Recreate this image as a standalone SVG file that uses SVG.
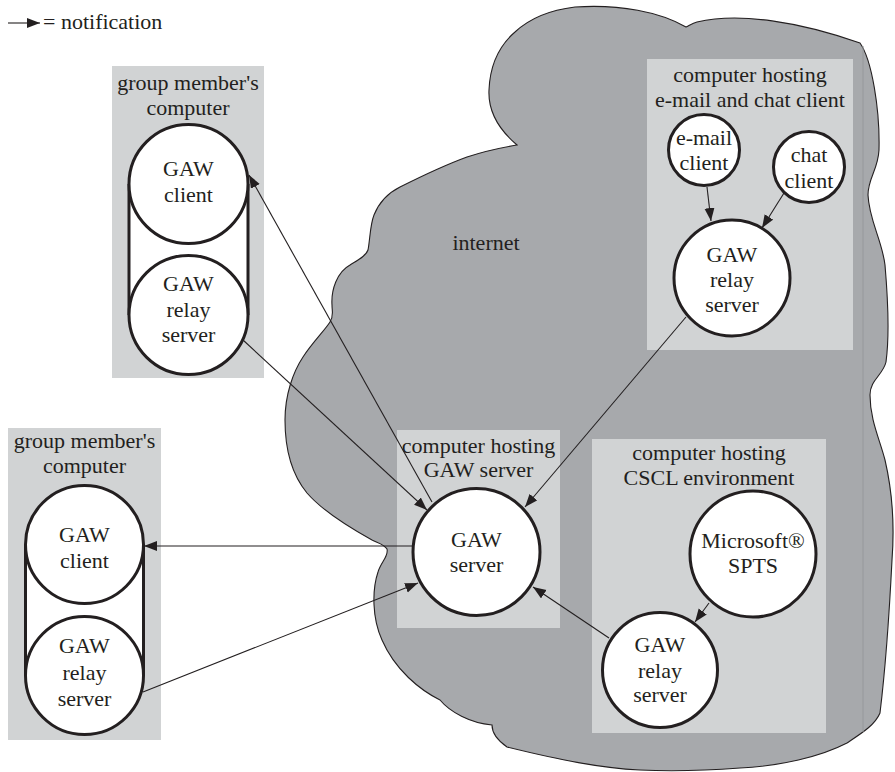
<svg xmlns="http://www.w3.org/2000/svg" width="895" height="772" viewBox="0 0 895 772">
  <style>
    text { font-family: "Liberation Serif", "Times New Roman", serif; font-size: 22px; fill: #231f20; text-anchor: middle; }
    .box { fill: #d1d3d4; stroke: none; }
    .node { fill: #ffffff; stroke: #231f20; stroke-width: 3; }
    .side { stroke: #231f20; stroke-width: 3; }
    .link { fill: none; stroke: #231f20; stroke-width: 1.1; }
    .cloud { fill: #a7a9ac; stroke: #231f20; stroke-width: 1.1; }
  </style>
  <defs>
    <marker id="arrow" markerUnits="userSpaceOnUse" markerWidth="15" markerHeight="11" refX="13" refY="5" orient="auto">
      <path d="M0,0 L13,5 L0,10 z" fill="#231f20"/>
    </marker>
  </defs>

  <!-- white page -->
  <rect x="0" y="0" width="895" height="772" fill="#ffffff"/>

  <!-- legend -->
  <g id="legend">
    <line class="link" x1="8" y1="23" x2="40" y2="23" marker-end="url(#arrow)"/>
    <text x="43" y="29" style="text-anchor:start">= notification</text>
  </g>

  <!-- internet cloud -->
  <g id="internet">
    <path class="cloud" d="M517,145
      C 497,128 488,110 489,90 C 490,65 500,45 515,32 C 530,18 550,10 575,7
      C 620,4 660,12 686,27 C 690,25 693,23 697,22
      C 740,12 800,22 860,43
      C 872,60 880,110 879,150 C 878,170 868,178 868,195
      C 869,220 882,240 885,265 C 888,300 889,340 886,362
      C 883,375 870,380 870,395 C 870,420 880,440 885,460
      C 892,490 895,520 892,560 C 889,620 884,680 880,713
      C 875,725 862,733 847,743 C 820,757 780,766 740,768
      C 700,771 660,771 640,770 C 600,768 560,760 507,747
      C 497,740 492,733 492,725
      C 470,723 450,712 440,700 C 420,690 395,670 382,640
      C 372,618 372,590 378,572 C 381,562 389,556 387,549
      C 384,544 378,543 372,540 C 345,525 320,508 307,493
      C 293,476 285,450 285,420 C 285,395 293,372 303,357
      C 312,343 325,330 330,322 C 334,316 332,312 332,305
      C 331,290 337,272 350,265 C 358,260 366,256 368,250
      C 370,240 370,225 374,215 C 380,200 390,192 400,187
      C 420,177 445,165 467,157 C 485,151 505,147 517,145 Z"/>
    <line x1="863" y1="46" x2="863" y2="732" stroke="#96989b" stroke-width="1"/>
    <text x="486" y="250">internet</text>
  </g>

  <!-- group member's computer (upper) -->
  <g id="member-top">
    <rect class="box" x="112" y="66" width="152" height="312"/>
    <text x="188" y="90">group member's</text>
    <text x="188" y="115">computer</text>
    <rect x="129" y="184" width="119" height="131" fill="#ffffff"/>
    <line class="side" x1="129" y1="184" x2="129" y2="315"/>
    <line class="side" x1="248" y1="184" x2="248" y2="315"/>
    <g id="gaw-client-top">
      <circle class="node" cx="188.5" cy="184" r="59.5"/>
      <text x="188.5" y="176">GAW</text>
      <text x="188.5" y="202">client</text>
    </g>
    <g id="gaw-relay-top">
      <circle class="node" cx="188.5" cy="315" r="59.5"/>
      <text x="188.5" y="291">GAW</text>
      <text x="188.5" y="317">relay</text>
      <text x="188.5" y="342">server</text>
    </g>
  </g>

  <!-- group member's computer (lower) -->
  <g id="member-bottom">
    <rect class="box" x="8" y="428" width="153" height="312"/>
    <text x="84.5" y="448">group member's</text>
    <text x="84.5" y="473">computer</text>
    <rect x="25.5" y="544.5" width="118" height="131" fill="#ffffff"/>
    <line class="side" x1="25.5" y1="544.5" x2="25.5" y2="675.5"/>
    <line class="side" x1="143.5" y1="544.5" x2="143.5" y2="675.5"/>
    <g id="gaw-client-bottom">
      <circle class="node" cx="84.5" cy="544.5" r="59"/>
      <text x="84.5" y="542">GAW</text>
      <text x="84.5" y="568">client</text>
    </g>
    <g id="gaw-relay-bottom">
      <circle class="node" cx="84.5" cy="675.5" r="59"/>
      <text x="84.5" y="653">GAW</text>
      <text x="84.5" y="680">relay</text>
      <text x="84.5" y="706">server</text>
    </g>
  </g>

  <!-- computer hosting e-mail and chat client -->
  <g id="mail-chat-host">
    <rect class="box" x="647" y="59" width="206" height="291"/>
    <text x="750" y="82">computer hosting</text>
    <text x="750" y="107">e-mail and chat client</text>
    <g id="email-client">
      <circle class="node" cx="704" cy="150" r="35.5"/>
      <text x="704" y="145">e-mail</text>
      <text x="704" y="170">client</text>
    </g>
    <g id="chat-client">
      <circle class="node" cx="809" cy="167" r="35.5"/>
      <text x="809" y="162">chat</text>
      <text x="809" y="188">client</text>
    </g>
    <g id="gaw-relay-mail">
      <circle class="node" cx="732" cy="278" r="58"/>
      <text x="732" y="262">GAW</text>
      <text x="732" y="287">relay</text>
      <text x="732" y="312">server</text>
    </g>
  </g>

  <!-- computer hosting GAW server -->
  <g id="server-host">
    <rect class="box" x="397" y="430" width="163" height="198"/>
    <text x="478.5" y="453">computer hosting</text>
    <text x="478.5" y="477">GAW server</text>
    <g id="gaw-server">
      <circle class="node" cx="476.5" cy="552" r="63.5"/>
      <text x="476.5" y="547">GAW</text>
      <text x="476.5" y="572">server</text>
    </g>
  </g>

  <!-- computer hosting CSCL environment -->
  <g id="cscl-host">
    <rect class="box" x="592" y="439" width="234" height="294"/>
    <text x="709" y="460">computer hosting</text>
    <text x="709" y="485">CSCL environment</text>
    <g id="sps">
      <circle class="node" cx="753" cy="554" r="63"/>
      <text x="753" y="548">Microsoft®</text>
      <text x="753" y="573">SPTS</text>
    </g>
    <g id="gaw-relay-cscl">
      <circle class="node" cx="660" cy="670" r="57.5"/>
      <text x="660" y="652">GAW</text>
      <text x="660" y="678">relay</text>
      <text x="660" y="702">server</text>
    </g>
  </g>

  <!-- notification connectors -->
  <g id="connectors">
    <line class="link" x1="432" y1="502" x2="249" y2="175" marker-end="url(#arrow)"/>
    <line class="link" x1="243" y1="340" x2="427" y2="510" marker-end="url(#arrow)"/>
    <line class="link" x1="413" y1="546" x2="144" y2="546" marker-end="url(#arrow)"/>
    <line class="link" x1="143" y1="692" x2="418" y2="583" marker-end="url(#arrow)"/>
    <line class="link" x1="686" y1="317" x2="525" y2="507" marker-end="url(#arrow)"/>
    <line class="link" x1="609" y1="638" x2="533" y2="587" marker-end="url(#arrow)"/>
    <line class="link" x1="709" y1="603" x2="695" y2="622" marker-end="url(#arrow)"/>
    <line class="link" x1="707" y1="187" x2="711" y2="221" marker-end="url(#arrow)"/>
    <line class="link" x1="784" y1="193" x2="762" y2="228" marker-end="url(#arrow)"/>
  </g>
</svg>
